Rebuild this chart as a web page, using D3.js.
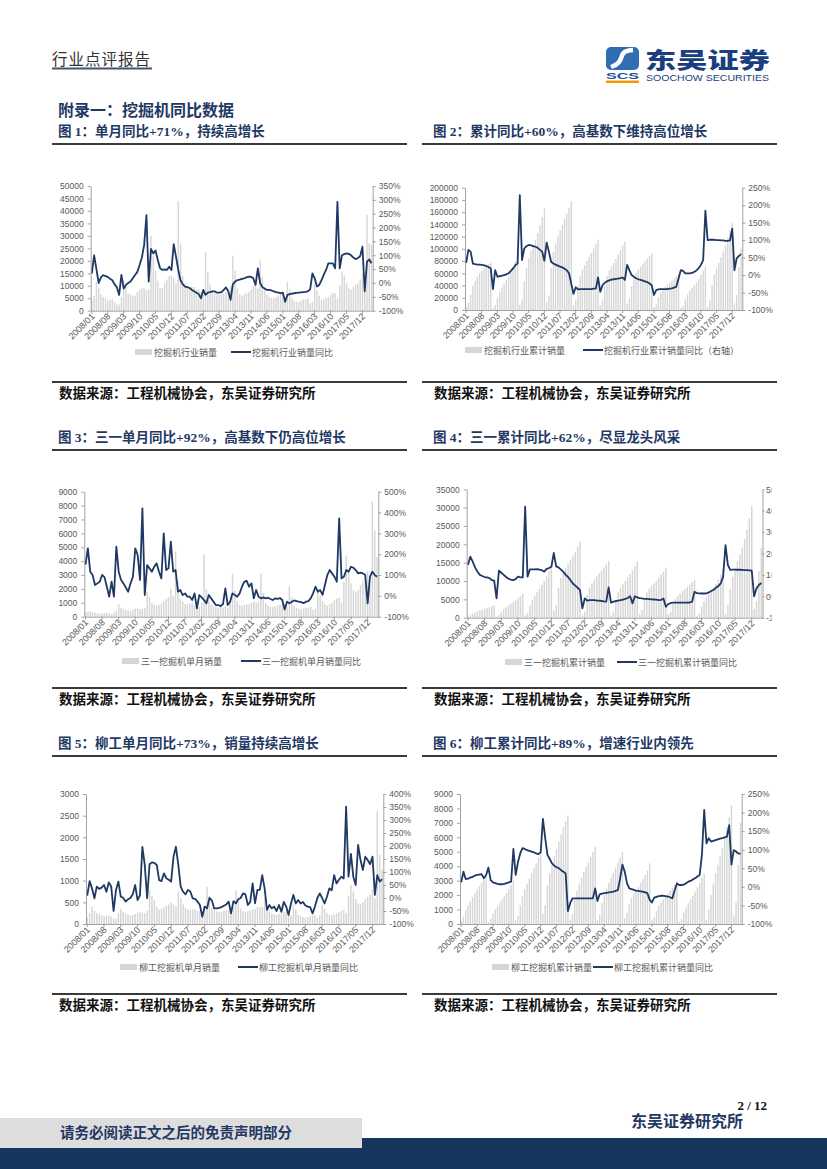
<!DOCTYPE html>
<html><head><meta charset="utf-8">
<script src="https://cdn.jsdelivr.net/npm/d3@7"></script>
<style>body{margin:0;background:#fff}svg{display:block}</style>
</head><body>
<svg id="page" width="827" height="1169"></svg>
<script>
// ---------- categories ----------
const months = [];
for (let y = 2008; y <= 2018; y++) for (let m = 1; m <= 12; m++) { if (y === 2018 && m > 4) break; months.push(y + "/" + String(m).padStart(2, "0")); }
const xTickLabels = ["2008/01","2008/08","2009/03","2009/10","2010/05","2010/12","2011/07","2012/02","2012/09","2013/04","2013/11","2014/06","2015/01","2015/08","2016/03","2016/10","2017/05","2017/12"];

// ---------- chart 1: industry monthly sales / yoy ----------
const c1Sales = [4500,6000,11500,9000,6500,5500,5000,4000,4500,4500,3500,2500,
2500,5500,12000,9500,7000,6500,6000,6000,7500,8500,9000,9000,
8500,8500,30000,22000,16000,12000,9000,9000,11000,12500,14000,14000,
13000,11000,44000,27000,14000,11000,10000,9500,9500,9500,8500,8500,
7500,8500,23500,15500,10500,8000,7000,6500,6500,7000,7000,7500,
7500,10000,22000,16000,9000,6500,6000,6500,7000,7500,8500,10000,
10000,9000,20500,13500,9000,6500,5500,5000,5000,5500,6000,7000,
7000,4500,11500,8500,5000,4000,3500,3500,4000,4500,4500,5000,
3000,3500,11000,8000,6000,4500,4500,5000,5500,6500,7000,7000,
5000,10000,15500,14000,11000,9000,8500,9500,10500,11000,12500,15000,
11000,38500,27000,26500];
const c1Yoy = [35,100,50,0,20,28,25,22,15,10,-5,-15,
-43,29,-20,-7,0,5,17,29,40,65,92,137,
245,5,123,107,117,83,53,47,49,47,59,47,
140,95,47,10,-5,-13,-15,-18,-25,-30,-35,-40,
-55,-25,-43,-35,-33,-30,-30,-35,-35,-33,-25,-16,
-30,-61,-5,5,10,12,15,17,20,23,22,17,
-7,53,0,-15,-20,-25,-25,-27,-30,-33,-35,-37,
-35,-68,-43,-40,-38,-37,-36,-35,-34,-33,-32,-30,
-23,35,17,-13,-7,10,30,47,71,71,71,53,
293,53,100,104,107,105,100,92,86,90,97,131,
-30,77,85,71];
const c1LeftTicks = [0,5000,10000,15000,20000,25000,30000,35000,40000,45000,50000];
const c1RightTicks = [-100,-50,0,50,100,150,200,250,300,350];

// ---------- chart 2: industry cumulative sales / yoy ----------
const c2Cum = [5000,12000,25000,40000,48000,55000,60000,64000,68000,72000,75000,77000,
2500,8000,20000,30000,37000,43000,49000,55000,62000,70000,79000,90000,
8500,17000,47000,69000,85000,97000,106000,115000,126000,138000,152000,166000,
13000,24000,68000,95000,109000,120000,130000,139000,149000,158000,167000,178000,
7500,16000,39500,55000,65500,73500,80500,87000,93500,100500,107500,115000,
7500,17500,39500,55500,64500,71000,77000,83500,90500,98000,106000,112000,
10000,19000,39500,53000,61000,66500,71000,75500,80000,84500,88500,92000,
4500,9000,20500,29000,34000,38000,41500,44500,48000,51500,55000,58000,
3000,6500,17500,25500,31500,36000,40500,45500,51000,57500,64500,71000,
5000,16000,40000,58000,68000,77000,86000,96000,106000,118000,130000,142000,
11000,24000,70000,100000];
const c2Yoy = [35,72,67,33,31,30,30,29,28,26,23,19,
-40,14,-5,-3,-2,0,2,5,12,19,28,33,
229,43,76,83,86,85,83,81,78,72,67,41,
93,67,38,33,30,27,24,22,18,14,5,-24,
-54,-35,-41,-40,-40,-40,-40,-40,-40,-39,-39,-7,
-48,-29,-22,-18,-15,-13,-12,-11,-10,-9,-7,-14,
29,14,0,-5,-9,-12,-14,-16,-18,-20,-24,-29,
-57,-43,-41,-40,-40,-40,-40,-39,-38,-36,-33,-10,
14,12,5,5,5,6,9,13,20,29,43,184,
100,101,101,101,100,100,99,99,98,98,99,133,
14,48,55,60];
const c2LeftTicks = [0,20000,40000,60000,80000,100000,120000,140000,160000,180000,200000];
const c2RightTicks = [-100,-50,0,50,100,150,200,250];

// ---------- chart 3: Sany monthly ----------
const c3Sales = [300,350,400,350,300,250,200,250,250,300,250,200,
300,450,900,650,550,500,450,400,500,600,600,550,
550,600,1800,1400,1000,850,800,850,950,1100,1300,1400,
2000,1500,4700,2600,1300,1100,900,900,950,1000,800,850,
700,1000,4500,2000,1200,900,750,700,650,700,650,750,
600,1100,3100,1900,1100,850,800,850,900,900,1000,1100,
1000,1100,3100,1700,1000,800,700,700,750,800,850,900,
900,700,2200,1400,800,650,600,550,600,650,650,700,
500,600,1900,1500,1100,900,800,900,1000,1200,1300,1400,
1000,2500,4400,3200,2400,1900,1800,1900,2300,2600,3000,3300,
2400,8300,6200,4300];
const c3Yoy = [150,228,116,100,52,60,68,100,90,44,-4,68,
-4,236,116,76,60,40,20,60,92,228,196,76,
420,4,148,132,116,140,156,116,84,300,124,132,
260,116,124,20,28,4,12,-4,-4,-20,12,-60,
4,-7,-20,-36,4,-12,-28,-44,-44,-49,-39,36,
-44,-28,12,4,-4,12,44,68,72,44,60,-12,
28,-4,-12,-7,-12,-9,-15,-20,-12,-15,-10,-20,
-65,-28,-36,-28,-22,-25,-28,-30,-35,-28,-25,-12,
12,44,20,28,5,52,100,124,108,92,68,372,
84,92,124,116,140,135,124,108,111,108,100,-36,
92,116,100,92];
const c3LeftTicks = [0,1000,2000,3000,4000,5000,6000,7000,8000,9000];
const c3RightTicks = [-100,0,100,200,300,400,500];

// ---------- chart 4: Sany cumulative ----------
const c4Cum = [300,650,1050,1400,1700,1950,2150,2400,2650,2900,3100,3300,
300,750,1650,2300,2850,3350,3800,4200,4700,5300,5900,6450,
600,1300,3300,4900,6000,7000,7900,8900,10000,11300,12700,14200,
2000,3500,8200,10800,12300,13600,14700,15800,16900,18000,19300,20700,
700,1700,6200,8200,9400,10400,11300,12100,12900,13700,14500,15500,
600,1700,4800,6900,8100,9100,10000,10900,11900,12900,14100,15300,
1000,2100,5200,6900,7900,8700,9400,10100,10850,11650,12500,13600,
900,1600,3800,5200,6000,6650,7250,7800,8400,9050,9700,10300,
500,1100,3000,4500,5600,6500,7300,8200,9200,10400,11700,13300,
1000,3500,7900,11100,13500,15400,17200,19100,21400,24000,27000,30500,
2400,4400,12700,19000];
const c4Yoy = [146,185,162,135,115,100,95,90,88,85,76,73,
-10,120,110,100,90,82,78,76,80,92,88,88,
419,92,126,126,126,127,125,122,115,128,132,138,
203,140,135,125,115,100,90,75,60,50,40,29,
-56,-10,-20,-18,-18,-18,-20,-20,-22,-24,-25,42,
-30,-25,-22,-20,-18,-15,-12,-8,0,-33,0,-5,
-8,-10,-12,-12,-13,-14,-15,-16,-18,-17,-10,-49,
-36,-32,-30,-30,-30,-30,-30,-30,-30,-29,-25,21,
15,14,13,13,14,18,25,30,40,48,60,92,
239,146,123,125,125,124,124,123,122,122,121,120,
0,37,53,62];
const c4LeftTicks = [0,5000,10000,15000,20000,25000,30000,35000];
const c4RightTicks = [-100,0,100,200,300,400,500];

// ---------- chart 5: Liugong monthly ----------
const c5Sales = [150,250,400,300,250,230,200,180,190,200,170,130,
120,250,350,280,240,220,200,210,230,260,280,270,
250,300,780,650,550,400,330,350,380,420,450,500,
450,400,750,600,450,380,330,320,330,340,300,300,
250,350,850,500,380,320,290,280,280,300,310,320,
250,400,780,500,350,300,280,290,310,330,350,400,
380,400,600,420,300,240,220,210,230,250,270,290,
260,200,450,330,220,180,160,150,160,180,200,220,
150,200,450,350,260,210,200,220,250,280,300,330,
250,650,900,750,580,480,450,500,580,620,680,800,
600,2600,1600,1250];
const c5Yoy = [9,65,37,-1,44,35,40,50,24,60,44,-50,
31,63,5,1,-14,-5,0,14,50,-8,10,197,
127,-1,130,137,135,127,69,65,95,76,70,63,
159,197,127,44,24,14,31,25,-1,-3,-14,-27,
-72,-33,-40,1,-10,-40,-40,-38,-35,-30,-25,-14,
-59,-12,-21,-5,0,18,14,-27,-15,56,-21,31,
31,88,37,-46,-27,-40,-33,-50,-27,-53,-15,-33,
-65,-21,12,-21,-8,-21,-15,-29,-33,-35,-59,-33,
0,18,0,-21,5,37,30,88,56,70,82,75,
351,82,170,82,50,204,146,108,159,146,130,159,
12,88,63,73];
const c5LeftTicks = [0,500,1000,1500,2000,2500,3000];
const c5RightTicks = [-100,-50,0,50,100,150,200,250,300,350,400];

// ---------- chart 6: Liugong cumulative ----------
const c6Cum = [200,500,950,1300,1600,1880,2130,2380,2620,2870,3080,3250,
120,350,700,1000,1250,1480,1690,1900,2140,2400,2700,3000,
250,550,1300,1900,2400,2800,3150,3500,3850,4200,4600,5000,
700,1300,2700,3500,4100,4700,5200,5700,6200,6700,7100,7500,
300,700,1700,2300,2800,3200,3600,3950,4300,4650,5000,5350,
250,650,1450,2000,2450,2850,3200,3550,3900,4250,4600,5000,
380,780,1380,1800,2100,2350,2600,2850,3100,3400,3700,4200,
260,460,910,1250,1500,1700,1900,2100,2300,2500,2700,2950,
150,350,800,1150,1450,1700,1950,2250,2550,2850,3200,3500,
300,1000,2000,2800,3500,4100,4700,5300,6000,6700,7400,8200,
600,1500,4100,7000];
const c6Yoy = [12,41,21,22,25,27,30,32,33,34,23,32,
52,18,12,10,8,7,7,8,10,12,14,102,
32,66,90,104,102,99,97,95,93,90,88,93,
183,131,86,75,63,57,53,50,45,41,36,-65,
-44,-31,-31,-31,-31,-31,-31,-31,-31,-31,-31,-4,
-38,-20,-18,-17,-16,-15,-14,-13,-11,-9,23,60,
41,10,-4,-6,-8,-10,-11,-12,-13,-15,-17,-35,
-42,-29,-27,-25,-24,-24,-25,-26,-28,-31,-9,9,
5,5,6,10,14,16,20,23,28,32,86,207,
117,131,122,124,126,128,130,131,133,135,166,60,
99,95,90,89];
const c6LeftTicks = [0,1000,2000,3000,4000,5000,6000,7000,8000,9000];
const c6RightTicks = [-100,-50,0,50,100,150,200,250];

// ---------- drawing ----------
const svg = d3.select("#page");
const NAVY = "#1F3864";
const CJK = "'Noto Sans CJK SC', sans-serif";
const TITLEF = "'Liberation Serif', 'Noto Sans CJK SC', serif";
const AXISF = "'Liberation Sans', Arial, sans-serif";

// header
svg.append("text").attr("x", 52).attr("y", 65).attr("font-family", CJK).attr("font-size", 15.5)
  .attr("fill", "#333").attr("letter-spacing", 1).text("行业点评报告");
svg.append("rect").attr("x", 52).attr("y", 67.5).attr("width", 100).attr("height", 2).attr("fill", "#44546A");
// logo
const logo = svg.append("g");
logo.append("rect").attr("x", 606).attr("y", 47).attr("width", 33).attr("height", 23).attr("rx", 5).attr("fill", "#2F6DB5");
logo.append("path").attr("d", "M633,50 C615,51 628,61 611,67").attr("fill", "none").attr("stroke", "#fff").attr("stroke-width", 4.5);
logo.append("text").attr("x", 606).attr("y", 79).attr("font-family", AXISF).attr("font-weight", 700).attr("font-size", 8.5)
  .attr("fill", "#1E4C9A").attr("textLength", 33).attr("lengthAdjust", "spacingAndGlyphs").text("SCS");
logo.append("rect").attr("x", 606).attr("y", 80.5).attr("width", 33).attr("height", 2.5).attr("fill", "#F29B05");
logo.append("text").attr("x", 645).attr("y", 68).attr("font-family", CJK).attr("font-weight", 900).attr("font-size", 22)
  .attr("fill", "#1B3F7E").attr("textLength", 125).attr("lengthAdjust", "spacingAndGlyphs").text("东吴证券");
logo.append("text").attr("x", 646).attr("y", 81).attr("font-family", AXISF).attr("font-size", 9)
  .attr("fill", "#1B3F7E").attr("textLength", 123).attr("lengthAdjust", "spacingAndGlyphs").text("SOOCHOW SECURITIES");

svg.append("text").attr("x", 58).attr("y", 116).attr("font-family", TITLEF).attr("font-weight", 700).attr("font-size", 16)
  .attr("fill", NAVY).text("附录一：挖掘机同比数据");

// titles and sources
const titles = [
  {x: 58, y: 136, t: "图 1：单月同比+71%，持续高增长"},
  {x: 433, y: 136, t: "图 2：累计同比+60%，高基数下维持高位增长"},
  {x: 58, y: 442, t: "图 3：三一单月同比+92%，高基数下仍高位增长"},
  {x: 433, y: 442, t: "图 4：三一累计同比+62%，尽显龙头风采"},
  {x: 58, y: 748, t: "图 5：柳工单月同比+73%，销量持续高增长"},
  {x: 433, y: 748, t: "图 6：柳工累计同比+89%，增速行业内领先"}
];
titles.forEach(d => {
  svg.append("text").attr("x", d.x).attr("y", d.y).attr("font-family", TITLEF).attr("font-weight", 700)
    .attr("font-size", 13.5).attr("fill", NAVY).text(d.t);
  const lx = d.x < 300 ? 52 : 422;
  svg.append("rect").attr("x", lx).attr("y", d.y + 7).attr("width", 355).attr("height", 2).attr("fill", "#3a3a3a");
  const sy = d.y + 245;
  svg.append("rect").attr("x", lx).attr("y", sy).attr("width", 355).attr("height", 2).attr("fill", "#3a3a3a");
  svg.append("text").attr("x", d.x + 1).attr("y", sy + 17).attr("font-family", TITLEF).attr("font-weight", 700)
    .attr("font-size", 13.5).attr("fill", "#111").text("数据来源：工程机械协会，东吴证券研究所");
});

svg.append("defs").append("clipPath").attr("id", "pageclip").append("rect")
  .attr("x", 0).attr("y", 0).attr("width", 771.5).attr("height", 1169);

function drawChart(c) {
  const g = svg.append("g");
  const x = d3.scaleBand().domain(months).range([c.x0, c.x1]).paddingInner(0.38).paddingOuter(0.2);
  const yL = d3.scaleLinear().domain([c.leftTicks[0], c.leftTicks[c.leftTicks.length - 1]]).range([c.yBot, c.yTop]);
  const yR = d3.scaleLinear().domain([c.rightTicks[0], c.rightTicks[c.rightTicks.length - 1]]).range([c.yBot, c.yTop]);
  g.append("g").selectAll("rect").data(c.bars).join("rect")
    .attr("x", (d, i) => x(months[i])).attr("width", x.bandwidth())
    .attr("y", d => yL(d)).attr("height", d => c.yBot - yL(d)).attr("fill", "#D6D6D6");
  const line = d3.line().x((d, i) => x(months[i]) + x.bandwidth() / 2).y(d => yR(d));
  g.append("path").datum(c.line).attr("d", line).attr("fill", "none").attr("stroke", NAVY)
    .attr("stroke-width", 1.8).attr("stroke-linejoin", "round");

  const ax = g.append("g").attr("transform", `translate(0,${c.yBot})`)
    .call(d3.axisBottom(x).tickValues(xTickLabels).tickSize(3).tickSizeOuter(0));
  ax.selectAll("text").attr("transform", "translate(-1,2) rotate(-45)").attr("text-anchor", "end")
    .attr("dx", 0).attr("dy", "0.35em").attr("x", 0).attr("y", 3);
  const al = g.append("g").attr("transform", `translate(${c.x0},0)`)
    .call(d3.axisLeft(yL).tickValues(c.leftTicks).tickFormat(d3.format("d")).tickSize(3).tickSizeOuter(0).tickPadding(4));
  const wrap = g.append("g");
  if (c.clipRight) wrap.attr("clip-path", "url(#pageclip)");
  const ar = wrap.append("g").attr("transform", `translate(${c.x1},0)`)
    .call(d3.axisRight(yR).tickValues(c.rightTicks).tickFormat(d => d + "%")
      .tickSize(c.clipRight ? 2 : 3).tickSizeOuter(0).tickPadding(c.clipRight ? 1.5 : 3));
  [ax, al, ar].forEach(a => {
    a.selectAll("path,line").attr("stroke", "#8C8C8C").attr("stroke-width", 0.8);
    a.selectAll("text").attr("font-family", AXISF).attr("font-size", 8.5).attr("fill", "#595959");
  });
  ax.selectAll("text").attr("font-size", 9);
  // legend
  const lg = g.append("g");
  lg.append("rect").attr("x", c.lg[0]).attr("y", c.ly - 3).attr("width", 17).attr("height", 6).attr("fill", "#D6D6D6");
  lg.append("text").attr("x", c.lg[0] + 19).attr("y", c.ly + 3.5).attr("font-family", CJK).attr("font-size", 9)
    .attr("fill", "#595959").text(c.names[0]);
  lg.append("line").attr("x1", c.lg[1]).attr("x2", c.lg[1] + 20).attr("y1", c.ly).attr("y2", c.ly)
    .attr("stroke", NAVY).attr("stroke-width", 2);
  lg.append("text").attr("x", c.lg[1] + 21).attr("y", c.ly + 3.5).attr("font-family", CJK).attr("font-size", 9)
    .attr("fill", "#595959").text(c.names[1]);
}

drawChart({x0: 90.7, x1: 372.7, yTop: 186, yBot: 310.7, bars: c1Sales, line: c1Yoy,
  leftTicks: c1LeftTicks, rightTicks: c1RightTicks, ly: 352, lg: [135, 231], names: ["挖掘机行业销量", "挖掘机行业销量同比"]});
drawChart({x0: 465, x1: 742.3, yTop: 187.7, yBot: 310, bars: c2Cum, line: c2Yoy,
  leftTicks: c2LeftTicks, rightTicks: c2RightTicks, ly: 350, lg: [465, 583], names: ["挖掘机行业累计销量", "挖掘机行业累计销量同比（右轴）"]});
drawChart({x0: 84.3, x1: 378.3, yTop: 491.7, yBot: 616.7, bars: c3Sales, line: c3Yoy,
  leftTicks: c3LeftTicks, rightTicks: c3RightTicks, ly: 661, lg: [122, 241], names: ["三一挖掘机单月销量", "三一挖掘机单月销量同比"]});
drawChart({x0: 466.7, x1: 762.5, yTop: 489.3, yBot: 617.7, bars: c4Cum, line: c4Yoy, clipRight: true,
  leftTicks: c4LeftTicks, rightTicks: c4RightTicks, ly: 662, lg: [505, 617], names: ["三一挖掘机累计销量", "三一挖掘机累计销量同比"]});
drawChart({x0: 86, x1: 383.3, yTop: 794, yBot: 924, bars: c5Sales, line: c5Yoy,
  leftTicks: c5LeftTicks, rightTicks: c5RightTicks, ly: 967, lg: [120, 238], names: ["柳工挖掘机单月销量", "柳工挖掘机单月销量同比"]});
drawChart({x0: 460, x1: 741.7, yTop: 794, yBot: 924, bars: c6Cum, line: c6Yoy,
  leftTicks: c6LeftTicks, rightTicks: c6RightTicks, ly: 967, lg: [492, 593], names: ["柳工挖掘机累计销量", "柳工挖掘机累计销量同比"]});

// footer
svg.append("text").attr("x", 767).attr("y", 1110).attr("text-anchor", "end").attr("font-family", "'Liberation Serif', serif")
  .attr("font-weight", 700).attr("font-size", 13).attr("fill", "#111").text("2 / 12");
svg.append("text").attr("x", 631).attr("y", 1127).attr("font-family", TITLEF).attr("font-weight", 700)
  .attr("font-size", 16).attr("fill", NAVY).text("东吴证券研究所");
svg.append("rect").attr("x", 0).attr("y", 1138).attr("width", 827).attr("height", 31).attr("fill", "#17365D");
svg.append("rect").attr("x", 0).attr("y", 1118).attr("width", 362).attr("height", 30).attr("fill", "#DDDDDD");
svg.append("text").attr("x", 176).attr("y", 1138).attr("text-anchor", "middle").attr("font-family", TITLEF)
  .attr("font-weight", 700).attr("font-size", 14.5).attr("fill", NAVY).text("请务必阅读正文之后的免责声明部分");
</script>
</body></html>
